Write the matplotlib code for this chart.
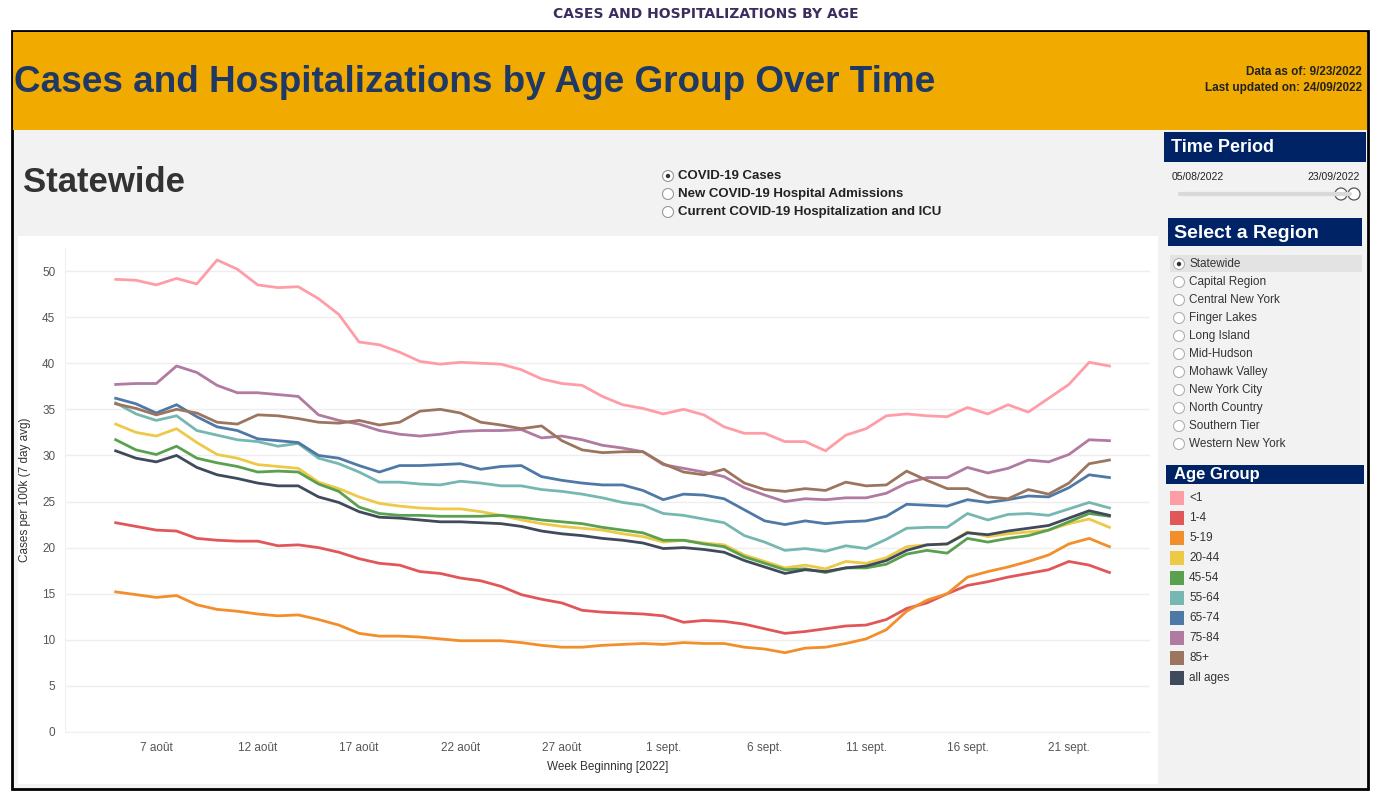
import datetime as dt
import matplotlib
matplotlib.use("Agg")
import matplotlib.pyplot as plt
import matplotlib.dates as mdates
from matplotlib.patches import Rectangle, Circle

plt.rcParams['font.family'] = ['Liberation Sans', 'DejaVu Sans']

# ---- data (cases per 100k, 7 day avg), daily from 5 Aug 2022 ----
start = dt.date(2022, 8, 5)
dates = [start + dt.timedelta(days=i) for i in range(50)]

under1 = [49.1, 49.0, 48.5, 49.2, 48.6, 51.2, 50.2, 48.5, 48.2, 48.3, 47.0, 45.3, 42.3, 42.0, 41.2, 40.2,
          39.9, 40.1, 40.0, 39.9, 39.3, 38.3, 37.8, 37.6, 36.4, 35.5, 35.1, 34.5, 35.0, 34.4, 33.1, 32.4, 32.4, 31.5,
          31.5, 30.5, 32.2, 32.9, 34.3, 34.5, 34.3, 34.2, 35.2, 34.5, 35.5, 34.7, 36.2, 37.7, 40.1, 39.7]
age1_4 = [22.7, 22.3, 21.9, 21.8, 21.0, 20.8, 20.7, 20.7, 20.2, 20.3, 20.0, 19.5, 18.8, 18.3, 18.1, 17.4,
          17.2, 16.7, 16.4, 15.8, 14.9, 14.4, 14.0, 13.2,
          13.0, 12.9, 12.8, 12.6, 11.9, 12.1, 12.0, 11.7, 11.2, 10.7, 10.9, 11.2, 11.5, 11.6, 12.2, 13.4,
          14.0, 15.0, 15.9, 16.3, 16.8, 17.2, 17.6, 18.5, 18.1, 17.3]
age5_19 = [15.2, 14.9, 14.6, 14.8, 13.8, 13.3, 13.1, 12.8, 12.6, 12.7, 12.2, 11.6, 10.7, 10.4, 10.4, 10.3,
           10.1, 9.9, 9.9, 9.9, 9.7, 9.4, 9.2, 9.2,
           9.4, 9.5, 9.6, 9.5, 9.7, 9.6, 9.6, 9.2, 9.0, 8.6, 9.1, 9.2, 9.6, 10.1, 11.1, 13.1,
           14.3, 15.0, 16.8, 17.4, 17.9, 18.5, 19.2, 20.4, 21.0, 20.1]
age20_44 = [33.4, 32.5, 32.1, 32.9, 31.4, 30.1, 29.7, 29.0, 28.8, 28.6, 27.1, 26.4, 25.5, 24.8, 24.5, 24.3,
            24.2, 24.2, 23.9, 23.5, 23.0, 22.6, 22.3,
            22.1, 21.9, 21.5, 21.2, 20.6, 20.8, 20.5, 20.3, 19.2, 18.5, 17.8, 18.1, 17.7, 18.5, 18.3, 18.9,
            20.1, 20.3, 20.4, 21.7, 21.2, 21.5, 21.7, 21.9, 22.6, 23.1, 22.2]
age45_54 = [31.7, 30.6, 30.1, 31.0, 29.7, 29.2, 28.8, 28.2, 28.3, 28.2, 26.9, 26.1, 24.4, 23.7, 23.5, 23.5,
            23.4, 23.4, 23.4, 23.5, 23.3, 23.0, 22.8,
            22.6, 22.2, 21.9, 21.6, 20.8, 20.8, 20.4, 20.1, 19.0, 18.3, 17.6, 17.7, 17.3, 17.8, 17.8, 18.2,
            19.3, 19.7, 19.4, 21.0, 20.6, 21.0, 21.3, 21.9, 22.8, 23.7, 23.4]
age55_64 = [35.7, 34.5, 33.8, 34.3, 32.7, 32.2, 31.7, 31.5, 31.0, 31.3, 29.7, 29.1, 28.2, 27.1, 27.1, 26.9,
            26.8, 27.2, 27.0, 26.7, 26.7, 26.3, 26.1,
            25.8, 25.4, 24.9, 24.6, 23.7, 23.5, 23.1, 22.7, 21.3, 20.6, 19.7, 19.9, 19.6, 20.2, 19.9, 20.9,
            22.1, 22.2, 22.2, 23.7, 23.0, 23.6, 23.7, 23.5, 24.2, 24.9, 24.3]
age65_74 = [36.2, 35.6, 34.6, 35.5, 34.2, 33.1, 32.7, 31.8, 31.6, 31.4, 30.0, 29.7, 28.9, 28.2, 28.9, 28.9,
            29.0, 29.1, 28.5, 28.8, 28.9, 27.7, 27.3, 27.0, 26.8, 26.8, 26.2, 25.2, 25.8, 25.7, 25.3, 24.1, 22.9, 22.5,
            22.9, 22.6, 22.8, 22.9, 23.4, 24.7, 24.6, 24.5, 25.2, 24.9, 25.2, 25.6, 25.5, 26.5, 27.9, 27.6]
age75_84 = [37.7, 37.8, 37.8, 39.7, 39.0, 37.6, 36.8, 36.8, 36.6, 36.4, 34.4, 33.8, 33.4, 32.7, 32.3, 32.1,
            32.3, 32.6, 32.7, 32.7, 32.8, 31.9, 32.1, 31.7, 31.1, 30.8, 30.4, 29.0, 28.6, 28.2, 27.7, 26.5, 25.7, 25.0,
            25.3, 25.2, 25.4, 25.4, 25.9, 27.0, 27.6, 27.6, 28.7, 28.1, 28.6, 29.5, 29.3, 30.1, 31.7, 31.6]
age85 = [35.6, 35.1, 34.4, 35.0, 34.6, 33.6, 33.4, 34.4, 34.3, 34.0, 33.6, 33.5, 33.8, 33.3, 33.6, 34.8,
         35.0, 34.6, 33.6, 33.3, 32.9, 33.2, 31.6, 30.6, 30.3, 30.4, 30.4, 29.1, 28.2, 27.9, 28.5, 27.0, 26.3, 26.1,
         26.4, 26.2, 27.1, 26.7, 26.8, 28.3, 27.3, 26.4, 26.4, 25.5, 25.3, 26.3, 25.8, 27.0, 29.1, 29.5]
all_ages = [30.5, 29.7, 29.3, 30.0, 28.7, 27.9, 27.5, 27.0, 26.7, 26.7, 25.5, 24.9, 23.9, 23.3, 23.2, 23.0,
            22.8, 22.8, 22.7, 22.6, 22.3, 21.8, 21.5,
            21.3, 21.0, 20.8, 20.5, 19.9, 20.0, 19.8, 19.5, 18.6, 17.9, 17.2, 17.6, 17.4, 17.8, 18.0, 18.6,
            19.7, 20.3, 20.4, 21.6, 21.4, 21.8, 22.1, 22.4, 23.2, 24.0, 23.5]

groups = ["<1", "1-4", "5-19", "20-44", "45-54", "55-64", "65-74", "75-84", "85+", "all ages"]
series = [under1, age1_4, age5_19, age20_44, age45_54, age55_64, age65_74, age75_84, age85, all_ages]
colors = ["#ff9da7", "#e15759", "#f28e2b", "#edc948", "#59a14f", "#76b7b2", "#4e79a7", "#b07aa1", "#9c755f", "#3f4a5c"]

regions = ["Statewide", "Capital Region", "Central New York", "Finger Lakes", "Long Island", "Mid-Hudson",
           "Mohawk Valley", "New York City", "North Country", "Southern Tier", "Western New York"]
measures = ["COVID-19 Cases", "New COVID-19 Hospital Admissions", "Current COVID-19 Hospitalization and ICU"]

tick_dates = [dt.date(2022, 8, 7) + dt.timedelta(days=5 * k) for k in range(10)]
tick_labels = ["7 août", "12 août", "17 août", "22 août", "27 août",
               "1 sept.", "6 sept.", "11 sept.", "16 sept.", "21 sept."]

W, H = 1384, 807
navy = "#1f3864"
hdr = "#002366"

fig = plt.figure(figsize=(W / 100, H / 100), dpi=100)
fig.patch.set_facecolor("white")

# page furniture drawn in pixel coordinates
bg = fig.add_axes([0, 0, 1, 1])
bg.set_xlim(0, W)
bg.set_ylim(H, 0)
bg.axis("off")

bg.text(706, 14, "CASES AND HOSPITALIZATIONS BY AGE", ha="center", va="center",
        fontsize=10, fontweight="bold", color="#3b2d5e",
        family=["DejaVu Sans Condensed", "Liberation Sans Narrow", "DejaVu Sans"])

bg.add_patch(Rectangle((12, 31), 1356, 758, facecolor="#f2f2f2", edgecolor="black", lw=2))
bg.add_patch(Rectangle((13, 32), 1354, 98, facecolor="#f0aa00", edgecolor="none"))
bg.text(14, 82, "Cases and Hospitalizations by Age Group Over Time", ha="left", va="center",
        fontsize=26.6, fontweight="bold", color=navy)
bg.text(1362, 72, "Data as of: 9/23/2022", ha="right", va="center", fontsize=8.5, fontweight="bold", color="#222")
bg.text(1362, 88, "Last updated on: 24/09/2022", ha="right", va="center", fontsize=8.5, fontweight="bold", color="#222")

bg.text(23, 183, "Statewide", ha="left", va="center", fontsize=25, fontweight="bold", color="#333333")

# measure radio buttons
for i, m in enumerate(measures):
    y = 176 + 18 * i
    bg.add_patch(Circle((668, y), 5.5, facecolor="white", edgecolor="#999", lw=0.8))
    if i == 0:
        bg.add_patch(Circle((668, y), 2.2, facecolor="#333", edgecolor="none"))
    bg.text(678, y, m, ha="left", va="center", fontsize=9.5, fontweight="bold", color="#222")

# white chart card
bg.add_patch(Rectangle((18, 236), 1140, 548, facecolor="white", edgecolor="none"))

# right panel: time period
bg.add_patch(Rectangle((1164, 132), 202, 30, facecolor=hdr, edgecolor="none"))
bg.text(1171, 147, "Time Period", ha="left", va="center", fontsize=13, fontweight="bold", color="white")
bg.text(1172, 177, "05/08/2022", ha="left", va="center", fontsize=7.5, color="#222")
bg.text(1360, 177, "23/09/2022", ha="right", va="center", fontsize=7.5, color="#222")
bg.plot([1180, 1350], [194, 194], color="#d9d9d9", lw=3, solid_capstyle="round")
bg.add_patch(Circle((1341, 194), 6, facecolor="white", edgecolor="#555", lw=0.9))
bg.add_patch(Circle((1354, 194), 6, facecolor="white", edgecolor="#555", lw=0.9))

# right panel: region
bg.add_patch(Rectangle((1168, 218), 194, 28, facecolor=hdr, edgecolor="none"))
bg.text(1174, 233, "Select a Region", ha="left", va="center", fontsize=14, fontweight="bold", color="white")
bg.add_patch(Rectangle((1170, 255), 192, 17, facecolor="#e3e3e3", edgecolor="none"))
for i, r in enumerate(regions):
    y = 264 + 18 * i
    bg.add_patch(Circle((1179, y), 5.5, facecolor="white", edgecolor="#b0b0b0", lw=0.8))
    if i == 0:
        bg.add_patch(Circle((1179, y), 2.2, facecolor="#333", edgecolor="none"))
    bg.text(1189, y, r, ha="left", va="center", fontsize=8.5, color="#333")

# right panel: age group legend
bg.add_patch(Rectangle((1166, 465), 198, 19, facecolor=hdr, edgecolor="none"))
bg.text(1174, 475, "Age Group", ha="left", va="center", fontsize=12, fontweight="bold", color="white")
for i, (g, c) in enumerate(zip(groups, colors)):
    y = 498 + 20 * i
    bg.add_patch(Rectangle((1170, y - 7), 14, 14, facecolor=c, edgecolor="none"))
    bg.text(1189, y, g, ha="left", va="center", fontsize=8.5, color="#333")

# ---- line chart ----
x0, x1, ytop, ybot = 65, 1150, 248, 732
ax = fig.add_axes([x0 / W, 1 - ybot / H, (x1 - x0) / W, (ybot - ytop) / H])
ax.set_facecolor("white")
for g, s, c in zip(groups, series, colors):
    ax.plot(dates, s, color=c, lw=2.0, label=g, solid_joinstyle="round")

ax.set_ylim(0, 52.5)
ax.set_xlim(mdates.date2num(start) - 2.5, mdates.date2num(start) + 51.0)
ax.set_yticks(range(0, 51, 5))
ax.set_xticks(tick_dates)
ax.set_xticklabels(tick_labels)
ax.tick_params(axis="both", length=0, labelsize=8.5, labelcolor="#555")
ax.tick_params(axis="x", pad=7)
ax.tick_params(axis="y", pad=7)
ax.grid(axis="y", color="#eeeeee", lw=1)
ax.set_axisbelow(True)
for side in ["top", "right"]:
    ax.spines[side].set_visible(False)
for side in ["left", "bottom"]:
    ax.spines[side].set_color("#f0f0f0")
ax.set_xlabel("Week Beginning [2022]", fontsize=8.5, color="#333", labelpad=5)
ax.set_ylabel("Cases per 100k (7 day avg)", fontsize=8.5, color="#333", labelpad=8)

fig.savefig("out.png", dpi=100, facecolor="white")
